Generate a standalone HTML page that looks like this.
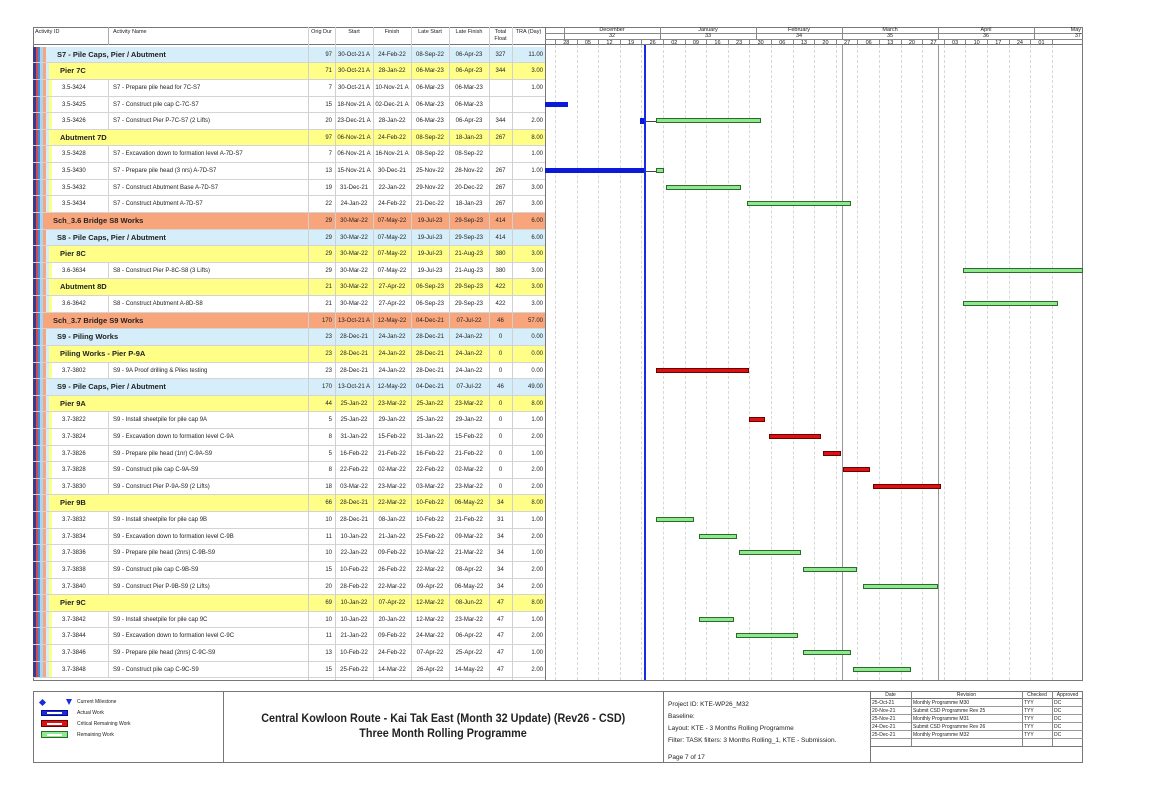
<!DOCTYPE html>
<html><head><meta charset="utf-8"><style>
*{margin:0;padding:0;box-sizing:border-box}
body{width:1149px;height:812px;background:#fff;position:relative;overflow:hidden;font-family:"Liberation Sans",Arial,sans-serif;color:#222}
.ab{position:absolute}
.r{position:absolute;left:33px;width:512px;height:16.62px;border-bottom:1px solid #d4d4d4}
.r i{position:absolute;font-style:normal;font-size:6px;line-height:16px;top:0;white-space:nowrap}
.L0{background:linear-gradient(to right,#3a3a8a 0 3px,#d84a4a 3px 5px,#3c8de0 5px 7px,#a6d6f2 7px 10px,#f9a57c 10px)}
.L1{background:linear-gradient(to right,#3a3a8a 0 3px,#d84a4a 3px 5px,#3c8de0 5px 7px,#a6d6f2 7px 10px,#f9a57c 10px 13px,#d6eef9 13px)}
.L2{background:linear-gradient(to right,#3a3a8a 0 3px,#d84a4a 3px 5px,#3c8de0 5px 7px,#a6d6f2 7px 10px,#f9a57c 10px 13px,#d6eef9 13px 16px,#ffff88 16px)}
.L3{background:linear-gradient(to right,#3a3a8a 0 3px,#d84a4a 3px 5px,#3c8de0 5px 7px,#a6d6f2 7px 10px,#f9a57c 10px 13px,#d6eef9 13px 16px,#ffff88 16px 19px,#fff 19px)}
.r i.g{font-weight:bold;font-size:7.5px}
.L0 i.g{left:20px}.L1 i.g{left:24px}.L2 i.g{left:27px}
.r i.a{left:29px}
.r i.n{left:75px;padding-left:4px;border-left:1px solid #d4d4d4;height:16px}
.r i.d{left:275px;width:24px;text-align:right}
.r i.s{left:302px;width:38px;text-align:center}
.r i.f{left:340px;width:38px;text-align:center}
.r i.ls{left:378px;width:38px;text-align:center}
.r i.lf{left:416px;width:40px;text-align:center}
.r i.t{left:456px;width:23px;text-align:center}
.r i.x{left:479px;width:31px;text-align:right}
.vl{position:absolute;top:27px;height:653px;width:1px;background:#d0d0d0}
.wk{position:absolute;top:45px;height:635px;width:0;border-left:1px dashed #d8d8d8}
.bar{position:absolute;height:5px;border:1px solid #333}
.gr{background:#8ee88e;border-color:#2d6b2d}
.rd{background:#dd1111;border-color:#6a0000}
.bl{background:#0a1ad8;border-color:#0a1ad8}
.hd{position:absolute;font-size:5.5px;text-align:center;white-space:nowrap}
.ft{position:absolute;font-size:6.5px;white-space:nowrap}
</style></head><body>

<div class="ab" style="left:33px;top:27px;width:1050px;height:654px;border:1px solid #777"></div>
<div class="ab" style="left:33px;top:44px;width:1050px;height:1px;background:#777"></div>
<div class="ab" style="left:545px;top:27px;width:1px;height:654px;background:#777"></div>

<div class="hd" style="left:35px;top:29px">Activity ID</div>
<div class="hd" style="left:113px;top:29px">Activity Name</div>
<div class="hd" style="left:308px;top:29px;width:27px">Orig Dur</div>
<div class="hd" style="left:335px;top:29px;width:38px">Start</div>
<div class="hd" style="left:373px;top:29px;width:38px">Finish</div>
<div class="hd" style="left:411px;top:29px;width:38px">Late Start</div>
<div class="hd" style="left:449px;top:29px;width:40px">Late Finish</div>
<div class="hd" style="left:489px;top:29px;width:23px;line-height:6.5px">Total<br>Float</div>
<div class="hd" style="left:512px;top:29px;width:33px">TRA (Day)</div>
<div class="ab" style="left:108px;top:27px;width:1px;height:18px;background:#aaa"></div>

<div class="r L1" style="top:46.7px"><i class="g">S7 - Pile Caps, Pier / Abutment</i><i class="d">97</i><i class="s">30-Oct-21 A</i><i class="f">24-Feb-22</i><i class="ls">08-Sep-22</i><i class="lf">06-Apr-23</i><i class="t">327</i><i class="x">11.00</i></div>
<div class="r L2" style="top:63.3px"><i class="g">Pier 7C</i><i class="d">71</i><i class="s">30-Oct-21 A</i><i class="f">28-Jan-22</i><i class="ls">06-Mar-23</i><i class="lf">06-Apr-23</i><i class="t">344</i><i class="x">3.00</i></div>
<div class="r L3" style="top:79.9px"><i class="a">3.5-3424</i><i class="n">S7 - Prepare pile head for 7C-S7</i><i class="d">7</i><i class="s">30-Oct-21 A</i><i class="f">10-Nov-21 A</i><i class="ls">06-Mar-23</i><i class="lf">06-Mar-23</i><i class="t"></i><i class="x">1.00</i></div>
<div class="r L3" style="top:96.6px"><i class="a">3.5-3425</i><i class="n">S7 - Construct pile cap C-7C-S7</i><i class="d">15</i><i class="s">18-Nov-21 A</i><i class="f">02-Dec-21 A</i><i class="ls">06-Mar-23</i><i class="lf">06-Mar-23</i></div>
<div class="r L3" style="top:113.2px"><i class="a">3.5-3426</i><i class="n">S7 - Construct Pier P-7C-S7 (2 Lifts)</i><i class="d">20</i><i class="s">23-Dec-21 A</i><i class="f">28-Jan-22</i><i class="ls">06-Mar-23</i><i class="lf">06-Apr-23</i><i class="t">344</i><i class="x">2.00</i></div>
<div class="r L2" style="top:129.8px"><i class="g">Abutment 7D</i><i class="d">97</i><i class="s">06-Nov-21 A</i><i class="f">24-Feb-22</i><i class="ls">08-Sep-22</i><i class="lf">18-Jan-23</i><i class="t">267</i><i class="x">8.00</i></div>
<div class="r L3" style="top:146.4px"><i class="a">3.5-3428</i><i class="n">S7 - Excavation down to formation level A-7D-S7</i><i class="d">7</i><i class="s">06-Nov-21 A</i><i class="f">16-Nov-21 A</i><i class="ls">08-Sep-22</i><i class="lf">08-Sep-22</i><i class="x">1.00</i></div>
<div class="r L3" style="top:163.0px"><i class="a">3.5-3430</i><i class="n">S7 - Prepare pile head (3 nrs) A-7D-S7</i><i class="d">13</i><i class="s">15-Nov-21 A</i><i class="f">30-Dec-21</i><i class="ls">25-Nov-22</i><i class="lf">28-Nov-22</i><i class="t">267</i><i class="x">1.00</i></div>
<div class="r L3" style="top:179.7px"><i class="a">3.5-3432</i><i class="n">S7 - Construct Abutment Base A-7D-S7</i><i class="d">19</i><i class="s">31-Dec-21</i><i class="f">22-Jan-22</i><i class="ls">29-Nov-22</i><i class="lf">20-Dec-22</i><i class="t">267</i><i class="x">3.00</i></div>
<div class="r L3" style="top:196.3px"><i class="a">3.5-3434</i><i class="n">S7 - Construct Abutment A-7D-S7</i><i class="d">22</i><i class="s">24-Jan-22</i><i class="f">24-Feb-22</i><i class="ls">21-Dec-22</i><i class="lf">18-Jan-23</i><i class="t">267</i><i class="x">3.00</i></div>
<div class="r L0" style="top:212.9px"><i class="g">Sch_3.6 Bridge S8 Works</i><i class="d">29</i><i class="s">30-Mar-22</i><i class="f">07-May-22</i><i class="ls">19-Jul-23</i><i class="lf">29-Sep-23</i><i class="t">414</i><i class="x">6.00</i></div>
<div class="r L1" style="top:229.5px"><i class="g">S8 - Pile Caps, Pier / Abutment</i><i class="d">29</i><i class="s">30-Mar-22</i><i class="f">07-May-22</i><i class="ls">19-Jul-23</i><i class="lf">29-Sep-23</i><i class="t">414</i><i class="x">6.00</i></div>
<div class="r L2" style="top:246.1px"><i class="g">Pier 8C</i><i class="d">29</i><i class="s">30-Mar-22</i><i class="f">07-May-22</i><i class="ls">19-Jul-23</i><i class="lf">21-Aug-23</i><i class="t">380</i><i class="x">3.00</i></div>
<div class="r L3" style="top:262.8px"><i class="a">3.6-3634</i><i class="n">S8 - Construct Pier P-8C-S8 (3 Lifts)</i><i class="d">29</i><i class="s">30-Mar-22</i><i class="f">07-May-22</i><i class="ls">19-Jul-23</i><i class="lf">21-Aug-23</i><i class="t">380</i><i class="x">3.00</i></div>
<div class="r L2" style="top:279.4px"><i class="g">Abutment 8D</i><i class="d">21</i><i class="s">30-Mar-22</i><i class="f">27-Apr-22</i><i class="ls">06-Sep-23</i><i class="lf">29-Sep-23</i><i class="t">422</i><i class="x">3.00</i></div>
<div class="r L3" style="top:296.0px"><i class="a">3.6-3642</i><i class="n">S8 - Construct Abutment A-8D-S8</i><i class="d">21</i><i class="s">30-Mar-22</i><i class="f">27-Apr-22</i><i class="ls">06-Sep-23</i><i class="lf">29-Sep-23</i><i class="t">422</i><i class="x">3.00</i></div>
<div class="r L0" style="top:312.6px"><i class="g">Sch_3.7 Bridge S9 Works</i><i class="d">170</i><i class="s">13-Oct-21 A</i><i class="f">12-May-22</i><i class="ls">04-Dec-21</i><i class="lf">07-Jul-22</i><i class="t">46</i><i class="x">57.00</i></div>
<div class="r L1" style="top:329.2px"><i class="g">S9 - Piling Works</i><i class="d">23</i><i class="s">28-Dec-21</i><i class="f">24-Jan-22</i><i class="ls">28-Dec-21</i><i class="lf">24-Jan-22</i><i class="t">0</i><i class="x">0.00</i></div>
<div class="r L2" style="top:345.9px"><i class="g">Piling Works - Pier P-9A</i><i class="d">23</i><i class="s">28-Dec-21</i><i class="f">24-Jan-22</i><i class="ls">28-Dec-21</i><i class="lf">24-Jan-22</i><i class="t">0</i><i class="x">0.00</i></div>
<div class="r L3" style="top:362.5px"><i class="a">3.7-3802</i><i class="n">S9 - 9A Proof drilling &amp; Piles testing</i><i class="d">23</i><i class="s">28-Dec-21</i><i class="f">24-Jan-22</i><i class="ls">28-Dec-21</i><i class="lf">24-Jan-22</i><i class="t">0</i><i class="x">0.00</i></div>
<div class="r L1" style="top:379.1px"><i class="g">S9 - Pile Caps, Pier / Abutment</i><i class="d">170</i><i class="s">13-Oct-21 A</i><i class="f">12-May-22</i><i class="ls">04-Dec-21</i><i class="lf">07-Jul-22</i><i class="t">46</i><i class="x">49.00</i></div>
<div class="r L2" style="top:395.7px"><i class="g">Pier 9A</i><i class="d">44</i><i class="s">25-Jan-22</i><i class="f">23-Mar-22</i><i class="ls">25-Jan-22</i><i class="lf">23-Mar-22</i><i class="t">0</i><i class="x">8.00</i></div>
<div class="r L3" style="top:412.3px"><i class="a">3.7-3822</i><i class="n">S9 - Install sheetpile for pile cap 9A</i><i class="d">5</i><i class="s">25-Jan-22</i><i class="f">29-Jan-22</i><i class="ls">25-Jan-22</i><i class="lf">29-Jan-22</i><i class="t">0</i><i class="x">1.00</i></div>
<div class="r L3" style="top:429.0px"><i class="a">3.7-3824</i><i class="n">S9 - Excavation down to formation level C-9A</i><i class="d">8</i><i class="s">31-Jan-22</i><i class="f">15-Feb-22</i><i class="ls">31-Jan-22</i><i class="lf">15-Feb-22</i><i class="t">0</i><i class="x">2.00</i></div>
<div class="r L3" style="top:445.6px"><i class="a">3.7-3826</i><i class="n">S9 - Prepare pile head (1nr) C-9A-S9</i><i class="d">5</i><i class="s">16-Feb-22</i><i class="f">21-Feb-22</i><i class="ls">16-Feb-22</i><i class="lf">21-Feb-22</i><i class="t">0</i><i class="x">1.00</i></div>
<div class="r L3" style="top:462.2px"><i class="a">3.7-3828</i><i class="n">S9 - Construct pile cap C-9A-S9</i><i class="d">8</i><i class="s">22-Feb-22</i><i class="f">02-Mar-22</i><i class="ls">22-Feb-22</i><i class="lf">02-Mar-22</i><i class="t">0</i><i class="x">2.00</i></div>
<div class="r L3" style="top:478.8px"><i class="a">3.7-3830</i><i class="n">S9 - Construct Pier P-9A-S9 (2 Lifts)</i><i class="d">18</i><i class="s">03-Mar-22</i><i class="f">23-Mar-22</i><i class="ls">03-Mar-22</i><i class="lf">23-Mar-22</i><i class="t">0</i><i class="x">2.00</i></div>
<div class="r L2" style="top:495.4px"><i class="g">Pier 9B</i><i class="d">66</i><i class="s">28-Dec-21</i><i class="f">22-Mar-22</i><i class="ls">10-Feb-22</i><i class="lf">06-May-22</i><i class="t">34</i><i class="x">8.00</i></div>
<div class="r L3" style="top:512.1px"><i class="a">3.7-3832</i><i class="n">S9 - Install sheetpile for pile cap 9B</i><i class="d">10</i><i class="s">28-Dec-21</i><i class="f">08-Jan-22</i><i class="ls">10-Feb-22</i><i class="lf">21-Feb-22</i><i class="t">31</i><i class="x">1.00</i></div>
<div class="r L3" style="top:528.7px"><i class="a">3.7-3834</i><i class="n">S9 - Excavation down to formation level C-9B</i><i class="d">11</i><i class="s">10-Jan-22</i><i class="f">21-Jan-22</i><i class="ls">25-Feb-22</i><i class="lf">09-Mar-22</i><i class="t">34</i><i class="x">2.00</i></div>
<div class="r L3" style="top:545.3px"><i class="a">3.7-3836</i><i class="n">S9 - Prepare pile head (2nrs) C-9B-S9</i><i class="d">10</i><i class="s">22-Jan-22</i><i class="f">09-Feb-22</i><i class="ls">10-Mar-22</i><i class="lf">21-Mar-22</i><i class="t">34</i><i class="x">1.00</i></div>
<div class="r L3" style="top:561.9px"><i class="a">3.7-3838</i><i class="n">S9 - Construct pile cap C-9B-S9</i><i class="d">15</i><i class="s">10-Feb-22</i><i class="f">26-Feb-22</i><i class="ls">22-Mar-22</i><i class="lf">08-Apr-22</i><i class="t">34</i><i class="x">2.00</i></div>
<div class="r L3" style="top:578.5px"><i class="a">3.7-3840</i><i class="n">S9 - Construct Pier P-9B-S9 (2 Lifts)</i><i class="d">20</i><i class="s">28-Feb-22</i><i class="f">22-Mar-22</i><i class="ls">09-Apr-22</i><i class="lf">06-May-22</i><i class="t">34</i><i class="x">2.00</i></div>
<div class="r L2" style="top:595.2px"><i class="g">Pier 9C</i><i class="d">69</i><i class="s">10-Jan-22</i><i class="f">07-Apr-22</i><i class="ls">12-Mar-22</i><i class="lf">08-Jun-22</i><i class="t">47</i><i class="x">8.00</i></div>
<div class="r L3" style="top:611.8px"><i class="a">3.7-3842</i><i class="n">S9 - Install sheetpile for pile cap 9C</i><i class="d">10</i><i class="s">10-Jan-22</i><i class="f">20-Jan-22</i><i class="ls">12-Mar-22</i><i class="lf">23-Mar-22</i><i class="t">47</i><i class="x">1.00</i></div>
<div class="r L3" style="top:628.4px"><i class="a">3.7-3844</i><i class="n">S9 - Excavation down to formation level C-9C</i><i class="d">11</i><i class="s">21-Jan-22</i><i class="f">09-Feb-22</i><i class="ls">24-Mar-22</i><i class="lf">06-Apr-22</i><i class="t">47</i><i class="x">2.00</i></div>
<div class="r L3" style="top:645.0px"><i class="a">3.7-3846</i><i class="n">S9 - Prepare pile head (2nrs) C-9C-S9</i><i class="d">13</i><i class="s">10-Feb-22</i><i class="f">24-Feb-22</i><i class="ls">07-Apr-22</i><i class="lf">25-Apr-22</i><i class="t">47</i><i class="x">1.00</i></div>
<div class="r L3" style="top:661.6px"><i class="a">3.7-3848</i><i class="n">S9 - Construct pile cap C-9C-S9</i><i class="d">15</i><i class="s">25-Feb-22</i><i class="f">14-Mar-22</i><i class="ls">26-Apr-22</i><i class="lf">14-May-22</i><i class="t">47</i><i class="x">2.00</i></div>

<div class="vl" style="left:308px"></div><div class="vl" style="left:335px"></div><div class="vl" style="left:373px"></div><div class="vl" style="left:411px"></div><div class="vl" style="left:449px"></div><div class="vl" style="left:489px"></div><div class="vl" style="left:512px"></div>

<div class="ab" style="left:545px;top:33px;width:538px;height:1px;background:#888"></div>
<div class="ab" style="left:545px;top:39px;width:538px;height:1px;background:#888"></div>
<div class="hd" style="left:564px;top:27px;width:96px">December</div>
<div class="hd" style="left:660px;top:27px;width:96px">January</div>
<div class="hd" style="left:756px;top:27px;width:86px">February</div>
<div class="hd" style="left:842px;top:27px;width:96px">March</div>
<div class="hd" style="left:938px;top:27px;width:96px">April</div>
<div class="hd" style="left:1034px;top:27px;width:49px;text-align:right;padding-right:2px">May</div>
<div class="hd" style="left:564px;top:33px;width:96px">32</div>
<div class="hd" style="left:660px;top:33px;width:96px">33</div>
<div class="hd" style="left:756px;top:33px;width:86px">34</div>
<div class="hd" style="left:842px;top:33px;width:96px">35</div>
<div class="hd" style="left:938px;top:33px;width:96px">36</div>
<div class="hd" style="left:1034px;top:33px;width:49px;text-align:right;padding-right:2px">37</div>
<div class="ab" style="left:564px;top:27px;width:1px;height:12px;background:#888"></div>
<div class="ab" style="left:660px;top:27px;width:1px;height:12px;background:#888"></div>
<div class="ab" style="left:756px;top:27px;width:1px;height:12px;background:#888"></div>
<div class="ab" style="left:842px;top:27px;width:1px;height:12px;background:#888"></div>
<div class="ab" style="left:938px;top:27px;width:1px;height:12px;background:#888"></div>
<div class="ab" style="left:1034px;top:27px;width:1px;height:12px;background:#888"></div>

<div class="hd" style="left:555px;top:39.5px;width:21.6px;border-left:1px solid #888">28</div>
<div class="hd" style="left:576.6px;top:39.5px;width:21.6px;border-left:1px solid #888">05</div>
<div class="hd" style="left:598.2px;top:39.5px;width:21.6px;border-left:1px solid #888">12</div>
<div class="hd" style="left:619.8px;top:39.5px;width:21.6px;border-left:1px solid #888">19</div>
<div class="hd" style="left:641.4px;top:39.5px;width:21.6px;border-left:1px solid #888">26</div>
<div class="hd" style="left:663px;top:39.5px;width:21.6px;border-left:1px solid #888">02</div>
<div class="hd" style="left:684.6px;top:39.5px;width:21.6px;border-left:1px solid #888">09</div>
<div class="hd" style="left:706.2px;top:39.5px;width:21.6px;border-left:1px solid #888">16</div>
<div class="hd" style="left:727.8px;top:39.5px;width:21.6px;border-left:1px solid #888">23</div>
<div class="hd" style="left:749.4px;top:39.5px;width:21.6px;border-left:1px solid #888">30</div>
<div class="hd" style="left:771px;top:39.5px;width:21.6px;border-left:1px solid #888">06</div>
<div class="hd" style="left:792.6px;top:39.5px;width:21.6px;border-left:1px solid #888">13</div>
<div class="hd" style="left:814.2px;top:39.5px;width:21.6px;border-left:1px solid #888">20</div>
<div class="hd" style="left:835.8px;top:39.5px;width:21.6px;border-left:1px solid #888">27</div>
<div class="hd" style="left:857.4px;top:39.5px;width:21.6px;border-left:1px solid #888">06</div>
<div class="hd" style="left:879px;top:39.5px;width:21.6px;border-left:1px solid #888">13</div>
<div class="hd" style="left:900.6px;top:39.5px;width:21.6px;border-left:1px solid #888">20</div>
<div class="hd" style="left:922.2px;top:39.5px;width:21.6px;border-left:1px solid #888">27</div>
<div class="hd" style="left:943.8px;top:39.5px;width:21.6px;border-left:1px solid #888">03</div>
<div class="hd" style="left:965.4px;top:39.5px;width:21.6px;border-left:1px solid #888">10</div>
<div class="hd" style="left:987px;top:39.5px;width:21.6px;border-left:1px solid #888">17</div>
<div class="hd" style="left:1008.6px;top:39.5px;width:21.6px;border-left:1px solid #888">24</div>
<div class="hd" style="left:1030.2px;top:39.5px;width:21.6px;border-left:1px solid #888">01</div>
<div class="ab" style="left:1051.8px;top:39px;width:1px;height:6px;background:#888"></div>

<div class="wk" style="left:555px"></div><div class="wk" style="left:576.6px"></div><div class="wk" style="left:598.2px"></div><div class="wk" style="left:619.8px"></div><div class="wk" style="left:641.4px"></div><div class="wk" style="left:663px"></div><div class="wk" style="left:684.6px"></div><div class="wk" style="left:706.2px"></div><div class="wk" style="left:727.8px"></div><div class="wk" style="left:749.4px"></div><div class="wk" style="left:771px"></div><div class="wk" style="left:792.6px"></div><div class="wk" style="left:814.2px"></div><div class="wk" style="left:835.8px"></div><div class="wk" style="left:857.4px"></div><div class="wk" style="left:879px"></div><div class="wk" style="left:900.6px"></div><div class="wk" style="left:922.2px"></div><div class="wk" style="left:943.8px"></div><div class="wk" style="left:965.4px"></div><div class="wk" style="left:987px"></div><div class="wk" style="left:1008.6px"></div><div class="wk" style="left:1030.2px"></div><div class="wk" style="left:1051.8px"></div>
<div class="ab" style="left:842px;top:45px;width:1px;height:635px;background:#999"></div>
<div class="ab" style="left:938px;top:45px;width:1px;height:635px;background:#999"></div>

<div class="bar bl" style="left:545px;top:101.6px;width:23px"></div>
<div class="bar bl" style="left:640px;top:118px;width:6px;height:6px"></div>
<div class="ab" style="left:645px;top:120.5px;width:11px;height:1px;background:#444"></div>
<div class="bar gr" style="left:656px;top:118.2px;width:105px"></div>
<div class="bar bl" style="left:545px;top:168px;width:100px"></div>
<div class="ab" style="left:645px;top:170.5px;width:11px;height:1px;background:#444"></div>
<div class="bar gr" style="left:656px;top:168px;width:8px"></div>
<div class="bar gr" style="left:666px;top:184.7px;width:75px"></div>
<div class="bar gr" style="left:747px;top:201.3px;width:104px"></div>
<div class="bar gr" style="left:963px;top:267.8px;width:120px"></div>
<div class="bar gr" style="left:963px;top:301px;width:95px"></div>
<div class="bar rd" style="left:656px;top:367.5px;width:93px"></div>
<div class="bar rd" style="left:749px;top:417.3px;width:16px"></div>
<div class="bar rd" style="left:769px;top:434px;width:52px"></div>
<div class="bar rd" style="left:823px;top:450.6px;width:18px"></div>
<div class="bar rd" style="left:843px;top:467.2px;width:27px"></div>
<div class="bar rd" style="left:873px;top:483.8px;width:68px"></div>
<div class="bar gr" style="left:656px;top:517.1px;width:38px"></div>
<div class="bar gr" style="left:699px;top:533.7px;width:38px"></div>
<div class="bar gr" style="left:739px;top:550.3px;width:62px"></div>
<div class="bar gr" style="left:803px;top:566.9px;width:54px"></div>
<div class="bar gr" style="left:863px;top:583.5px;width:75px"></div>
<div class="bar gr" style="left:699px;top:616.8px;width:35px"></div>
<div class="bar gr" style="left:736px;top:633.4px;width:62px"></div>
<div class="bar gr" style="left:803px;top:650px;width:48px"></div>
<div class="bar gr" style="left:853px;top:666.6px;width:58px"></div>

<div class="ab" style="left:644px;top:45px;width:2px;height:635px;background:#1a2ae0"></div>

<div class="ab" style="left:33px;top:691px;width:1050px;height:72px;border:1px solid #777"></div>
<div class="ab" style="left:223px;top:691px;width:1px;height:72px;background:#777"></div>
<div class="ab" style="left:663px;top:691px;width:1px;height:72px;background:#777"></div>
<div class="ab" style="left:870px;top:691px;width:1px;height:72px;background:#777"></div>

<div class="ab" style="left:40px;top:700px;width:5px;height:5px;background:#1a2ae0;transform:rotate(45deg)"></div>
<div class="ab" style="left:66px;top:699px;width:0;height:0;border-left:3.5px solid transparent;border-right:3.5px solid transparent;border-top:6px solid #1a2ae0"></div>
<div class="ft" style="left:77px;top:699px;font-size:5px">Current Milestone</div>
<div class="ab" style="left:41px;top:710px;width:27px;height:6px;background:#1a2ae0;border:1px solid #0a0a80"></div>
<div class="ab" style="left:47px;top:712px;width:15px;height:2px;background:#fff"></div>
<div class="ft" style="left:77px;top:710px;font-size:5px">Actual Work</div>
<div class="ab" style="left:41px;top:720px;width:27px;height:7px;background:#dd1111;border:1px solid #600"></div>
<div class="ab" style="left:47px;top:722.5px;width:15px;height:2px;background:#fff"></div>
<div class="ft" style="left:77px;top:721px;font-size:5px">Critical Remaining Work</div>
<div class="ab" style="left:41px;top:731px;width:27px;height:7px;background:#8ee88e;border:1px solid #2d6b2d"></div>
<div class="ab" style="left:47px;top:733.5px;width:15px;height:2px;background:#fff"></div>
<div class="ft" style="left:77px;top:732px;font-size:5px">Remaining Work</div>

<div class="ab" style="left:223px;top:711px;width:440px;text-align:center;font-weight:bold;font-size:12px;white-space:nowrap"><span style="display:inline-block;transform:scaleX(0.9)">Central Kowloon Route - Kai Tak East (Month 32 Update) (Rev26 - CSD)</span></div>
<div class="ab" style="left:223px;top:726px;width:440px;text-align:center;font-weight:bold;font-size:12px;white-space:nowrap"><span style="display:inline-block;transform:scaleX(0.9)">Three Month Rolling Programme</span></div>

<div class="ft" style="left:668px;top:701px">Project ID: KTE-WP26_M32</div>
<div class="ft" style="left:668px;top:713px">Baseline:</div>
<div class="ft" style="left:668px;top:725px">Layout: KTE - 3 Months Rolling Programme</div>
<div class="ft" style="left:668px;top:737px">Filter: TASK filters: 3 Months Rolling_1, KTE - Submission.</div>
<div class="ft" style="left:668px;top:754px">Page 7 of 17</div>

<div class="ab" style="left:870px;top:698px;width:213px;border-top:1px solid #777"></div>
<div class="ab" style="left:870px;top:706px;width:213px;border-top:1px solid #999"></div>
<div class="ab" style="left:870px;top:714px;width:213px;border-top:1px solid #999"></div>
<div class="ab" style="left:870px;top:722px;width:213px;border-top:1px solid #999"></div>
<div class="ab" style="left:870px;top:730px;width:213px;border-top:1px solid #999"></div>
<div class="ab" style="left:870px;top:738px;width:213px;border-top:1px solid #999"></div>
<div class="ab" style="left:870px;top:746px;width:213px;border-top:1px solid #777"></div>
<div class="ab" style="left:911px;top:691px;width:1px;height:55px;background:#888"></div>
<div class="ab" style="left:1022px;top:691px;width:1px;height:55px;background:#888"></div>
<div class="ab" style="left:1052px;top:691px;width:1px;height:55px;background:#888"></div>
<div class="ft" style="left:870px;top:692px;width:41px;text-align:center;font-size:5px">Date</div>
<div class="ft" style="left:911px;top:692px;width:111px;text-align:center;font-size:5px">Revision</div>
<div class="ft" style="left:1022px;top:692px;width:30px;text-align:center;font-size:5px">Checked</div>
<div class="ft" style="left:1052px;top:692px;width:31px;text-align:center;font-size:5px">Approved</div>
<div class="ft" style="left:872px;top:700px;font-size:5px">25-Oct-21</div><div class="ft" style="left:913px;top:700px;font-size:5px">Monthly Programme M30</div><div class="ft" style="left:1024px;top:700px;font-size:5px">TYY</div><div class="ft" style="left:1054px;top:700px;font-size:5px">DC</div>
<div class="ft" style="left:872px;top:708px;font-size:5px">20-Nov-21</div><div class="ft" style="left:913px;top:708px;font-size:5px">Submit CSD Programme Rev 25</div><div class="ft" style="left:1024px;top:708px;font-size:5px">TYY</div><div class="ft" style="left:1054px;top:708px;font-size:5px">DC</div>
<div class="ft" style="left:872px;top:716px;font-size:5px">25-Nov-21</div><div class="ft" style="left:913px;top:716px;font-size:5px">Monthly Programme M31</div><div class="ft" style="left:1024px;top:716px;font-size:5px">TYY</div><div class="ft" style="left:1054px;top:716px;font-size:5px">DC</div>
<div class="ft" style="left:872px;top:724px;font-size:5px">24-Dec-21</div><div class="ft" style="left:913px;top:724px;font-size:5px">Submit CSD Programme Rev 26</div><div class="ft" style="left:1024px;top:724px;font-size:5px">TYY</div><div class="ft" style="left:1054px;top:724px;font-size:5px">DC</div>
<div class="ft" style="left:872px;top:732px;font-size:5px">25-Dec-21</div><div class="ft" style="left:913px;top:732px;font-size:5px">Monthly Programme M32</div><div class="ft" style="left:1024px;top:732px;font-size:5px">TYY</div><div class="ft" style="left:1054px;top:732px;font-size:5px">DC</div>
</body></html>
